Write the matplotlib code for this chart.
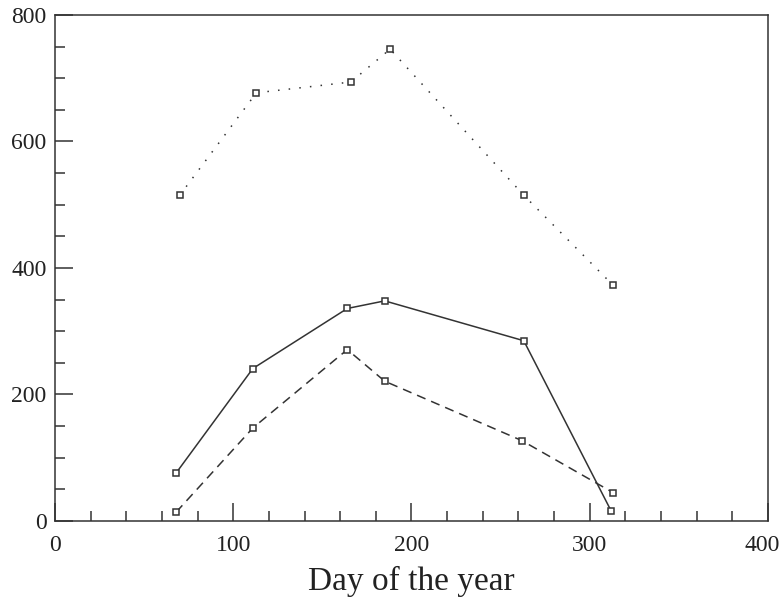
import matplotlib
matplotlib.use("Agg")
import matplotlib.pyplot as plt
from matplotlib.ticker import MultipleLocator, FuncFormatter

plt.rcParams['font.family'] = ['Liberation Serif', 'DejaVu Serif']

# sampling days and the three measured series
days_dotted = [70, 113, 166, 188, 263, 313]
vals_dotted = [515, 677, 694, 746, 515, 373]

days_solid = [68, 111, 164, 185, 263, 312]
vals_solid = [76, 241, 336, 348, 285, 16]

days_dashed = [68, 111, 164, 185, 262, 313]
vals_dashed = [14, 147, 271, 221, 127, 45]

xmax = 400
ink = '#333333'
txt = '#222222'

fig = plt.figure(figsize=(7.83, 6.0), dpi=100)
ax = fig.add_axes([0.0702, 0.1317, 0.9106, 0.8433])

mk = dict(marker='s', markersize=5, markerfacecolor='white',
          markeredgecolor=ink, markeredgewidth=1.1, color=ink)
ax.plot(days_dotted, vals_dotted, linestyle=(0, (1, 6)), linewidth=1.1, **mk)
ax.plot(days_solid, vals_solid, linestyle='-', linewidth=1.1, **mk)
ax.plot(days_dashed, vals_dashed, linestyle=(0, (6, 4)), linewidth=1.1, **mk)

ax.set_xlim(0, xmax)
ax.set_ylim(0, 800)
ax.xaxis.set_major_locator(MultipleLocator(100))
ax.xaxis.set_minor_locator(MultipleLocator(20))
ax.yaxis.set_major_locator(MultipleLocator(200))
ax.yaxis.set_minor_locator(MultipleLocator(50))

# last x label is drawn separately, a little to the left, so it is not clipped
ax.xaxis.set_major_formatter(FuncFormatter(lambda v, p: '' if v >= xmax else f'{v:.0f}'))
ax.annotate(f'{xmax}', xy=(xmax, 0), xycoords=('data', 'axes fraction'),
            xytext=(-4, -10), textcoords='offset points',
            ha='center', va='top', fontsize=17, color=txt)

ax.tick_params(which='both', direction='in', colors=ink, width=1.1,
               labelsize=17, labelcolor=txt)
ax.tick_params(which='major', length=13)
ax.tick_params(which='minor', length=7)
ax.tick_params(axis='x', pad=10)
ax.tick_params(axis='y', pad=6)

for s in ax.spines.values():
    s.set_color(ink)
    s.set_linewidth(1.1)

ax.set_xlabel('Day of the year', fontsize=24, color=txt, labelpad=7)

fig.savefig('out.png', dpi=100)
